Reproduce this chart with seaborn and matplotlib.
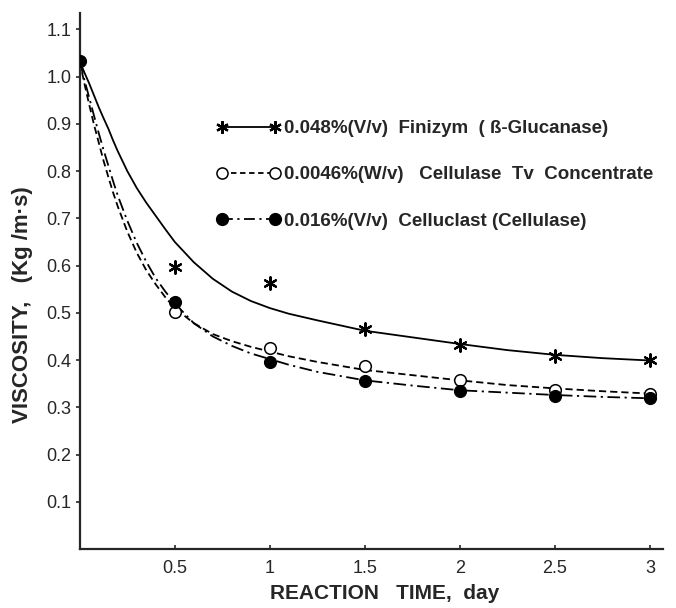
import numpy as np
import pandas as pd
import matplotlib
matplotlib.use("Agg")
import matplotlib.pyplot as plt
from matplotlib.lines import Line2D
import seaborn as sns

# measured points
t_meas = [0.5, 1.0, 1.5, 2.0, 2.5, 3.0]
finizym = [0.597, 0.564, 0.466, 0.432, 0.409, 0.400]
tv_conc = [0.502, 0.426, 0.388, 0.358, 0.337, 0.328]
t_clast = [0.0, 0.5, 1.0, 1.5, 2.0, 2.5, 3.0]
celluclast = [1.032, 0.523, 0.396, 0.356, 0.335, 0.324, 0.320]

# fitted curves
t_curve = [0, 0.025, 0.05, 0.075, 0.1, 0.125, 0.15, 0.175, 0.2, 0.25, 0.3, 0.35, 0.4, 0.45,
           0.5, 0.6, 0.7, 0.8, 0.9, 1.0, 1.1, 1.25, 1.5, 1.75, 2.0, 2.25, 2.5, 2.75, 3.0]
fin_curve = [1.032, 1.008, 0.985, 0.96, 0.935, 0.912, 0.89, 0.865, 0.842, 0.80, 0.764,
             0.733, 0.705, 0.677, 0.65, 0.607, 0.572, 0.545, 0.525, 0.51, 0.498, 0.484,
             0.462, 0.448, 0.434, 0.421, 0.411, 0.404, 0.399]
tv_curve = [1.032, 0.984, 0.94, 0.898, 0.86, 0.822, 0.788, 0.755, 0.725, 0.672, 0.627,
            0.59, 0.56, 0.533, 0.51, 0.478, 0.455, 0.44, 0.428, 0.418, 0.408, 0.396,
            0.379, 0.368, 0.357, 0.347, 0.34, 0.334, 0.329]
clast_curve = [1.032, 0.992, 0.955, 0.917, 0.88, 0.845, 0.812, 0.779, 0.748, 0.695, 0.648,
               0.608, 0.573, 0.545, 0.52, 0.478, 0.45, 0.43, 0.414, 0.402, 0.39, 0.375,
               0.357, 0.346, 0.336, 0.331, 0.326, 0.322, 0.319]

labels = ["0.048%(V/v)  Finizym  ( ß-Glucanase)",
          "0.0046%(W/v)   Cellulase  Tv  Concentrate",
          "0.016%(V/v)  Celluclast (Cellulase)"]
x_ticks = [0.5, 1, 1.5, 2, 2.5, 3]
x_ticklabels = ["0.5", "1", "1.5", "2", "2.5", "3"]
y_ticks = [0.1, 0.2, 0.3, 0.4, 0.5, 0.6, 0.7, 0.8, 0.9, 1.0, 1.1]

sns.set_theme(style="ticks")
plt.rcParams["font.family"] = ["Liberation Sans", "DejaVu Sans"]

curves = pd.DataFrame({
    "t": t_curve * 3,
    "v": fin_curve + tv_curve + clast_curve,
    "series": [labels[0]] * len(t_curve) + [labels[1]] * len(t_curve) + [labels[2]] * len(t_curve),
})
dash_map = {labels[0]: "", labels[1]: (4, 2.2), labels[2]: (7, 2.5, 1.2, 2.5)}

fig = plt.figure(figsize=(6.76, 6.08), dpi=100)
ax = fig.add_axes([0.118, 0.097, 0.863, 0.882])

sns.lineplot(data=curves, x="t", y="v", style="series", dashes=dash_map, color="black",
             linewidth=1.3, legend=False, ax=ax)
sns.scatterplot(x=t_meas, y=finizym, marker=(6, 2, 0), s=80, color="black", linewidth=1.6, ax=ax, zorder=5)
sns.scatterplot(x=t_meas, y=tv_conc, marker="o", s=70, facecolor="white", edgecolor="black", linewidth=1.1, ax=ax, zorder=5)
sns.scatterplot(x=t_clast, y=celluclast, marker="o", s=75, color="black", edgecolor="black", linewidth=0.8, ax=ax, zorder=6)

ax.set_xlim(0, 3.07)
ax.set_ylim(0, 1.135)
ax.set_xticks(x_ticks)
ax.set_xticklabels(x_ticklabels)
ax.set_yticks(y_ticks)
ax.set_yticklabels([f"{v:.1f}" for v in y_ticks])
ax.tick_params(axis="x", direction="in", length=3, width=1.2, labelsize=13, pad=8)
ax.tick_params(axis="y", direction="out", length=3, width=1.2, labelsize=13, pad=3)
for s in ["top", "right"]:
    ax.spines[s].set_visible(False)
for s in ["left", "bottom"]:
    ax.spines[s].set_linewidth(1.6)

ax.set_xlabel("REACTION   TIME,  day", fontsize=15, fontweight="bold")
ax.set_ylabel("VISCOSITY,   (Kg /m·s)", fontsize=16, fontweight="bold")
ax.xaxis.set_label_coords(0.523, -0.066)
ax.yaxis.set_label_coords(-0.081, 0.455)

handles = [
    Line2D([], [], color="black", ls="-", lw=1.3, marker=(6, 2, 0), markersize=9, mew=1.6),
    Line2D([], [], color="black", ls=(0, (3, 2)), lw=1.3, marker="o", markersize=8,
           mfc="white", mec="black", mew=1.1),
    Line2D([], [], color="black", ls=(0, (6, 2.5, 1.2, 2.5)), lw=1.3, marker="o", markersize=8.5,
           mfc="black", mec="black"),
]
ax.legend(handles, labels, loc="upper left", bbox_to_anchor=(0.235, 0.8), frameon=False,
          numpoints=2, handlelength=3.4, handletextpad=0.2, labelspacing=1.55,
          borderpad=0, borderaxespad=0,
          prop={"family": ["Liberation Sans", "DejaVu Sans"], "weight": "bold", "size": 13.5})

fig.savefig("out.png", dpi=100)
